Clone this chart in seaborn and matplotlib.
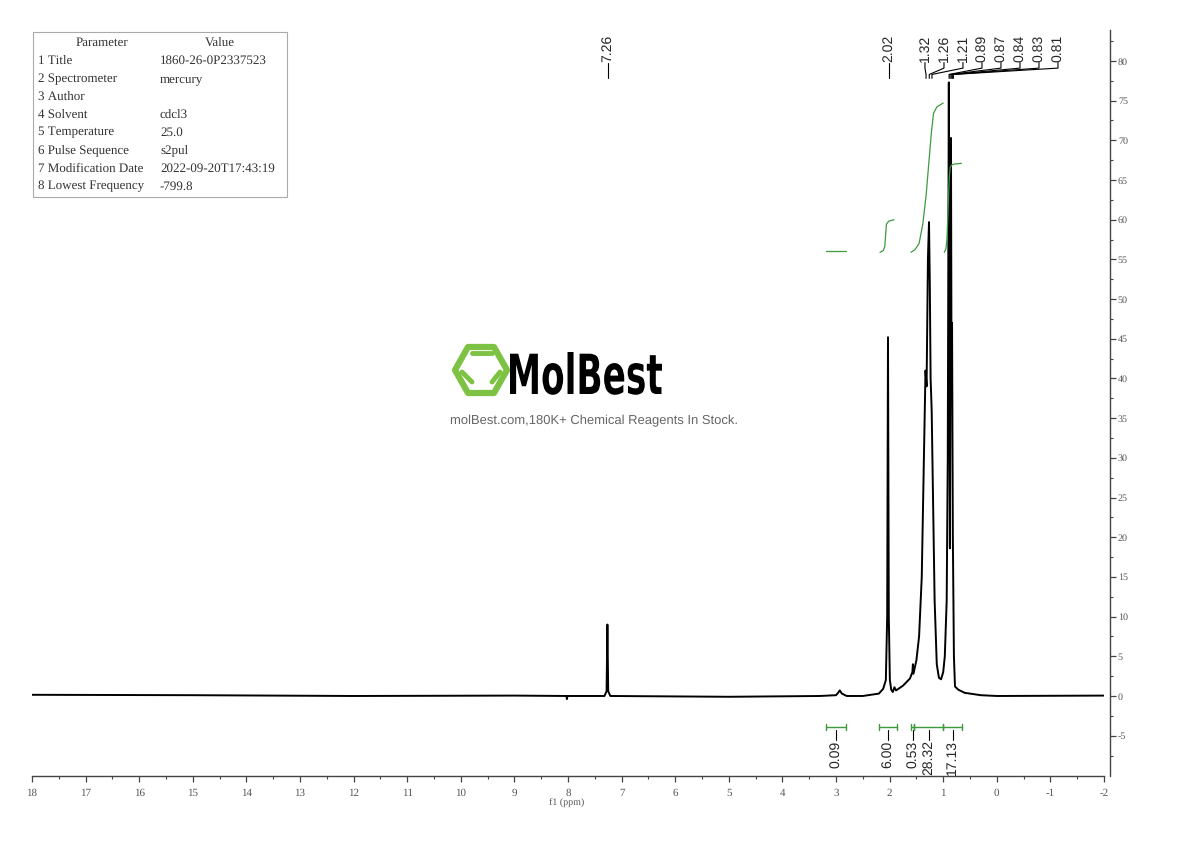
import matplotlib
matplotlib.use("Agg")
import matplotlib.pyplot as plt
import matplotlib.patches as patches
from matplotlib.lines import Line2D
from matplotlib.textpath import TextPath
from matplotlib.font_manager import FontProperties
from matplotlib.transforms import Affine2D
import numpy as np
import pandas as pd
import seaborn as sns

# ---- spectrum (ppm, intensity) ----
spec_ppm = [18.0, 15.0, 12.0, 9.0, 8.03, 8.02, 8.01, 7.32, 7.28, 7.265, 7.25, 7.21,
            5.0, 3.3, 3.0, 2.96, 2.93, 2.89, 2.8, 2.5, 2.2, 2.12, 2.07, 2.045, 2.03,
            2.015, 1.995, 1.97, 1.94, 1.91, 1.88, 1.75, 1.62, 1.575, 1.565, 1.555,
            1.50, 1.45, 1.40, 1.36, 1.33, 1.31, 1.285, 1.265, 1.25, 1.235, 1.215,
            1.19, 1.16, 1.12, 1.08, 1.04, 1.00, 0.97, 0.935, 0.915, 0.895, 0.885,
            0.875, 0.865, 0.855, 0.845, 0.835, 0.82, 0.80, 0.78, 0.72, 0.6, 0.3,
            0.0, -2.0]
spec_int = [0.15, 0.1, 0.0, 0.05, 0.0, -0.4, 0.0, 0.0, 0.6, 9.0, 0.6, 0.0,
            -0.1, 0.0, 0.1, 0.4, 0.7, 0.3, 0.0, 0.0, 0.3, 0.9, 2.0, 10.0, 45.2,
            10.0, 2.0, 0.8, 0.5, 1.1, 0.7, 1.3, 2.2, 3.0, 4.0, 2.8,
            4.5, 7.5, 15.0, 30.0, 41.0, 39.0, 55.0, 59.7, 52.0, 40.0, 36.0,
            25.0, 12.0, 4.0, 2.3, 2.1, 3.0, 5.0, 12.0, 30.0, 77.3, 48.0,
            18.6, 40.0, 70.3, 41.0, 47.0, 20.0, 5.0, 1.2, 0.8, 0.4, 0.1,
            0.0, 0.05]

# ---- integral curves (green) ----
int_curves = [
    ([3.19, 2.81], [56.0, 56.0]),
    ([2.18, 2.12, 2.09, 2.07, 2.06, 2.02, 1.92], [55.9, 56.1, 56.6, 58.5, 59.4, 59.8, 60.0]),
    ([1.60, 1.53, 1.45, 1.38, 1.32, 1.27, 1.22, 1.18, 1.12, 1.00],
     [55.9, 56.2, 57.0, 59.5, 63.0, 67.0, 71.0, 73.4, 74.2, 74.7]),
    ([0.98, 0.95, 0.93, 0.915, 0.90, 0.885, 0.87, 0.84, 0.80, 0.66],
     [55.9, 56.3, 57.5, 60.0, 63.0, 65.5, 66.6, 66.9, 67.0, 67.1]),
]

# ---- integration regions ----
int_from = [3.19, 2.20, 1.60, 1.54, 1.00]
int_to = [2.81, 1.86, 1.54, 1.00, 0.65]
int_vals = ["0.09", "6.00", "0.53", "28.32", "17.13"]

# ---- peak labels ----
single_peaks = [7.26, 2.02]
group_peaks = [1.32, 1.26, 1.21, 0.89, 0.87, 0.84, 0.83, 0.81]

# ---- parameter table ----
param_names = ["1 Title", "2 Spectrometer", "3 Author", "4 Solvent", "5 Temperature",
               "6 Pulse Sequence", "7 Modification Date", "8 Lowest Frequency"]
param_values = ["1860-26-0P2337523", "mercury", "", "cdcl3", "25.0", "s2pul",
                "2022-09-20T17:43:19", "-799.8"]

W, H = 1190, 841
sns.set_style("ticks")
plt.rcParams["font.family"] = ["Liberation Serif", "DejaVu Serif"]
plt.rcParams["text.hinting"] = "no_hinting"
plt.rcParams["text.hinting_factor"] = 1
plt.rcParams["axes.unicode_minus"] = False

fig = plt.figure(figsize=(W / 100, H / 100), dpi=100)
ax = fig.add_axes([32 / W, 1 - 776 / H, (1104 - 32) / W, (776 - 30) / H])


def fx(x):
    return x / W


def fy(y):
    return 1 - y / H


# spectrum
df = pd.DataFrame({"ppm": spec_ppm, "intensity": spec_int})
sns.lineplot(data=df, x="ppm", y="intensity", sort=False, estimator=None,
             color="black", lw=1.4, ax=ax)

green = "#3d9a3d"
for xs, ys in int_curves:
    sns.lineplot(x=xs, y=ys, sort=False, estimator=None, color=green, lw=0.9, ax=ax)

ax.set_xlim(18, -2)
ax.set_ylim(-10.08, 83.9)

sans = ["Liberation Sans", "DejaVu Sans"]

# integration bars + labels
bar_y = -3.9
for a, b, v in zip(int_from, int_to, int_vals):
    ax.plot([a, b], [bar_y, bar_y], color=green, lw=1.0)
    for e in (a, b):
        ax.plot([e, e], [bar_y - 0.4, bar_y + 0.4], color=green, lw=1.0)
    c = (a + b) / 2
    ax.plot([c, c], [bar_y - 0.35, -5.5], color="black", lw=0.8)
    ax.text(c, -5.6, v, rotation=90, ha="center", va="top", fontsize=10, family=sans)

# single peak labels
for p in single_peaks:
    ax.plot([p, p], [77.8, 79.8], color="black", lw=0.8)
    ax.text(p, 79.9, f"{p:.2f}", rotation=90, ha="center", va="bottom", fontsize=10,
            family=sans)

# grouped peak labels with fanned leader lines
step = 19 / 53.6
for i, p in enumerate(group_peaks):
    lx = group_peaks[0] + 0.02 - i * step
    ax.plot([lx, lx, p, p], [79.8, 79.1, 78.3, 77.8], color="black", lw=0.8)
    ax.text(lx, 79.9, f"{p:.2f}", rotation=90, ha="center", va="bottom", fontsize=10,
            family=sans)

# axes styling
for s in ("left", "top"):
    ax.spines[s].set_visible(False)
ax.spines["right"].set_position(("outward", 4))
for s in ("right", "bottom"):
    ax.spines[s].set_color("#444444")
    ax.spines[s].set_linewidth(1.0)
ax.yaxis.tick_right()
ax.set_xticks(np.arange(-2, 19, 1))
ax.set_xticks(np.arange(-1.5, 18, 1), minor=True)
ax.set_yticks(np.arange(-5, 81, 5))
ax.set_yticks(np.arange(-7.5, 83, 5), minor=True)
ax.tick_params(axis="both", which="major", direction="out", length=4, width=0.9,
               color="#444444", labelcolor="#555555")
ax.tick_params(axis="both", which="minor", direction="out", length=2.5, width=0.8,
               color="#444444")
ax.tick_params(axis="x", labelsize=8, pad=5)
ax.tick_params(axis="y", labelsize=7.5, pad=2)
ax.set_xlabel("")
ax.set_ylabel("")
fig.text(fx(567), fy(802), "f1 (ppm)", ha="center", va="center", fontsize=7.5,
         color="#555555")

# parameter table
fig.patches.append(patches.Rectangle((fx(33), fy(197)), (287 - 33) / W, (197 - 32) / H,
                                     transform=fig.transFigure, fill=False,
                                     edgecolor="#aaaaaa", lw=0.8))
fig.text(fx(102), fy(43), "Parameter", ha="center", va="center", fontsize=9, color="#333333")
fig.text(fx(220), fy(43), "Value", ha="center", va="center", fontsize=9, color="#333333")
for i, (n, v) in enumerate(zip(param_names, param_values)):
    yy = 61 + i * 17.9
    fig.text(fx(38), fy(yy), n, ha="left", va="center", fontsize=9, color="#333333")
    fig.text(fx(160), fy(yy), v, ha="left", va="center", fontsize=9, color="#333333")

# watermark: hexagon logo
logo_green = "#7dc242"
cx, cy = 481, 370
hexpts = [(cx - 26, cy), (cx - 13, cy - 23), (cx + 13, cy - 23), (cx + 26, cy),
          (cx + 13, cy + 23), (cx - 13, cy + 23)]
fig.patches.append(patches.Polygon([(fx(x), fy(y)) for x, y in hexpts], closed=True,
                                   transform=fig.transFigure, fill=False,
                                   edgecolor=logo_green, lw=4.5, joinstyle="round"))
for (x0, y0), (x1, y1) in [((cx - 9, cy - 17), (cx + 11, cy - 17)),
                           ((cx - 19, cy + 2), (cx - 9, cy + 12)),
                           ((cx + 11, cy + 12), (cx + 19, cy + 2))]:
    fig.lines.append(Line2D([fx(x0), fx(x1)], [fy(y0), fy(y1)], transform=fig.transFigure,
                            color=logo_green, lw=3.5, solid_capstyle="round"))

tp = TextPath((0, 0), "MolBest", size=1, prop=FontProperties(family="DejaVu Sans", weight="bold"))
ext = tp.get_extents()
sx = (152 / W) / ext.width
sy = (42 / H) / ext.ymax
tr = Affine2D().translate(-ext.xmin, 0).scale(sx, sy).translate(fx(510), fy(394)) + fig.transFigure
fig.patches.append(patches.PathPatch(tp, transform=tr, facecolor="black", edgecolor="none"))
fig.text(fx(594), fy(421), "molBest.com,180K+ Chemical Reagents In Stock.", ha="center",
         va="center", fontsize=9.5, color="#666666", family=sans)

fig.savefig("out.png", dpi=100)
